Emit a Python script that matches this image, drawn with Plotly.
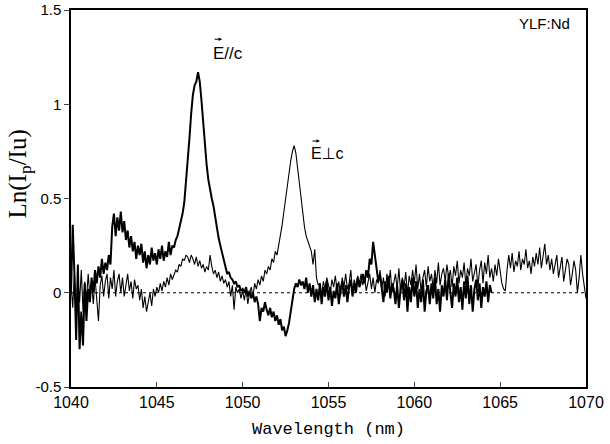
import numpy as np
import plotly.graph_objects as go

# wavelength grid step (nm) and starts
x_start = 1040.0
step = 0.1

# E perpendicular c (thin line), 1040.0 .. 1070.0
perp_vals = [
    0.05, -0.08, 0.1, -0.12, 0.08, -0.05, 0.12, -0.1, 0.06, -0.04,
    0.1, -0.02, 0.05, -0.06, 0.08, -0.03, -0.15, 0.04, 0.09, -0.02,
    0.06, 0.1, -0.03, 0.08, 0.02, 0.12, -0.02, 0.06, 0.1, 0.0,
    0.08, -0.02, 0.05, 0.1, 0.01, 0.06, -0.03, 0.07, 0.02, 0.04,
    -0.04, 0.02, -0.08, -0.02, -0.1, -0.04, 0.0, -0.07, 0.02, -0.02,
    0.03, 0.0, 0.05, 0.01, 0.06, 0.03, 0.08, 0.04, 0.1, 0.07,
    0.1, 0.12, 0.11, 0.15, 0.14, 0.18, 0.17, 0.2, 0.19, 0.16,
    0.2, 0.18, 0.15, 0.19, 0.14, 0.17, 0.13, 0.15, 0.11, 0.14,
    0.12, 0.2, 0.14, 0.1, 0.12, 0.08, 0.11, 0.06, 0.09, 0.05,
    0.07, 0.03, 0.06, -0.02, 0.04, -0.09, 0.03, 0.0, 0.02, -0.03,
    0.01, -0.04, 0.02, -0.06, 0.0, 0.03, -0.02, 0.05, 0.02, 0.07,
    0.04, 0.09, 0.06, 0.12, 0.1, 0.14, 0.12, 0.18, 0.16, 0.22,
    0.2, 0.25, 0.3, 0.36, 0.43, 0.5, 0.57, 0.64, 0.7, 0.75,
    0.78, 0.74, 0.66, 0.57, 0.48, 0.4, 0.35, 0.3, 0.27, 0.24,
    0.22, 0.15, 0.23, 0.08, 0.04, 0.05, -0.02, 0.06, 0.02, 0.08,
    0.04, 0.0, 0.07, 0.03, 0.09, 0.01, 0.06, -0.02, 0.08, 0.03,
    0.1, 0.02, 0.05, 0.12, 0.0, 0.07, 0.03, 0.09, 0.05, 0.1,
    0.04, 0.08, 0.01, 0.06, 0.1, 0.02, 0.08, 0.0, 0.07, 0.05,
    0.12, 0.02, 0.08, -0.02, 0.1, 0.03, 0.12, 0.0, 0.06, 0.1,
    0.02, 0.13, 0.0, 0.08, 0.03, 0.11, -0.01, 0.09, 0.04, 0.12,
    0.05, 0.15, 0.02, 0.1, 0.0, 0.08, 0.12, 0.03, 0.14, 0.06,
    0.1, 0.02, 0.12, 0.05, 0.16, 0.04, 0.1, 0.13, 0.06, 0.15,
    0.08, 0.12, 0.03, 0.14, 0.09, 0.17, 0.05, 0.12, 0.08, 0.16,
    0.04, 0.13, 0.09, 0.18, 0.06, 0.1, 0.15, 0.03, 0.12, 0.17,
    0.05, 0.16, 0.1, 0.2, 0.08, 0.13, 0.06, 0.15, 0.09, 0.18,
    0.12, 0.05, 0.02, 0.01, 0.12, 0.2, 0.13, 0.21, 0.11, 0.17,
    0.14, 0.22, 0.12, 0.18, 0.15, 0.23, 0.13, 0.17, 0.1, 0.19,
    0.14, 0.21, 0.15, 0.24, 0.13, 0.19, 0.26, 0.15, 0.2, 0.12,
    0.18, 0.1, 0.16, 0.2, 0.08, 0.14, 0.19, 0.06, 0.12, 0.18,
    0.15, 0.04, 0.1, 0.17, 0.12, 0.0, 0.08, 0.2, 0.1, 0.02,
    -0.03,
]

# E parallel c (thick line), 1040.0 .. 1064.5
par_vals = [
    0.0, 0.36, 0.1, -0.25, 0.15, -0.3, -0.1, -0.28, 0.05, -0.15,
    0.02, -0.05, 0.08, 0.0, 0.12, 0.05, 0.14, 0.08, 0.18, 0.1,
    0.16, 0.12, 0.2, 0.15, 0.35, 0.42, 0.3, 0.4, 0.33, 0.43,
    0.32, 0.38, 0.28, 0.33, 0.24, 0.3, 0.22, 0.27, 0.18, 0.25,
    0.2, 0.26, 0.16, 0.22, 0.13, 0.2, 0.15, 0.24, 0.17, 0.21,
    0.15, 0.23, 0.18, 0.25, 0.17, 0.22, 0.19, 0.27, 0.2, 0.25,
    0.24, 0.28, 0.3, 0.34, 0.38, 0.42, 0.48, 0.58, 0.7, 0.82,
    0.95, 1.05, 1.1, 1.12, 1.17, 1.12, 1.02, 0.9, 0.78, 0.68,
    0.6, 0.54, 0.5, 0.46, 0.4, 0.34, 0.29, 0.25, 0.21, 0.18,
    0.13, 0.1, 0.11, 0.08, 0.07, 0.05, 0.06, 0.03, 0.04, 0.01,
    0.02, 0.0, 0.03, -0.02, 0.01, -0.03, 0.0, -0.05, -0.02, -0.06,
    -0.15, -0.08, -0.1, -0.05, -0.09, -0.12, -0.08, -0.13, -0.1, -0.15,
    -0.12, -0.17, -0.14, -0.2, -0.18, -0.23, -0.2, -0.16, -0.1, -0.03,
    0.02, 0.05, 0.03, 0.07, 0.04, 0.06, 0.02, 0.08, 0.0, 0.05,
    -0.02, 0.04, -0.05, 0.02, -0.04, 0.05, -0.06, 0.03, -0.02, 0.06,
    -0.04, 0.03, -0.07, 0.01, -0.03, 0.05, -0.06, 0.02, 0.06, -0.02,
    0.04, -0.05, 0.03, 0.07, -0.02, 0.05, 0.0, 0.08, 0.03, 0.06,
    0.1, 0.05, 0.12, 0.08, 0.18, 0.15, 0.27, 0.2, 0.13, 0.06,
    0.1, 0.03, -0.05, 0.06, 0.0, 0.09, -0.03, 0.05, 0.02, -0.06,
    0.04, -0.08, 0.02, 0.07, -0.04, 0.05, -0.1, 0.03, -0.05, 0.08,
    -0.02, 0.06, -0.08, 0.02, -0.05, 0.07, -0.1, 0.01, 0.04, -0.06,
    0.05, -0.03, 0.08, -0.06, 0.02, -0.1, 0.04, -0.02, 0.07, -0.04,
    0.1, 0.0, -0.08, 0.05, -0.02, 0.08, -0.05, 0.03, -0.09, 0.06,
    -0.03, 0.09, -0.06, 0.04, -0.1, 0.02, 0.07, -0.04, 0.05, -0.08,
    0.03, -0.02, 0.06, -0.05, 0.04, 0.0,
]

x_ticks = [1040, 1045, 1050, 1055, 1060, 1065, 1070]
y_ticks = [-0.5, 0, 0.5, 1, 1.5]
y_tick_text = ["-0.5", "0", "0.5", "1", "1.5"]

x_perp = np.round(x_start + step * np.arange(len(perp_vals)), 2)
x_par = np.round(x_start + step * np.arange(len(par_vals)), 2)

SANS = "Liberation Sans, Arial, sans-serif"

fig = go.Figure()
fig.add_trace(go.Scatter(x=[1040, 1070], y=[0, 0], mode="lines",
                         line=dict(color="black", width=1, dash="dot"),
                         hoverinfo="skip", showlegend=False))
fig.add_trace(go.Scatter(x=x_perp, y=perp_vals, mode="lines",
                         line=dict(color="black", width=1.1), showlegend=False))
fig.add_trace(go.Scatter(x=x_par, y=par_vals, mode="lines",
                         line=dict(color="black", width=2), showlegend=False))

# labels
fig.add_annotation(x=1049.13, y=1.27, text="E//c", showarrow=False,
                   font=dict(family=SANS, size=17, color="black"))
fig.add_annotation(x=1054.95, y=0.74,
                   text="E<span style=\"font-family:'DejaVu Sans'\">\u22a5</span>c",
                   showarrow=False, font=dict(family=SANS, size=16, color="black"))
# vector arrows over the E's
fig.add_annotation(x=1048.80, y=1.345, ax=-9, ay=0, text="", showarrow=True,
                   arrowhead=2, arrowsize=0.7, arrowwidth=1, arrowcolor="black")
fig.add_annotation(x=1054.50, y=0.805, ax=-9, ay=0, text="", showarrow=True,
                   arrowhead=2, arrowsize=0.7, arrowwidth=1, arrowcolor="black")
fig.add_annotation(x=1067.56, y=1.43, text="YLF:Nd", showarrow=False,
                   font=dict(family=SANS, size=15, color="black"))
# y title
fig.add_annotation(xref="paper", yref="paper", x=-0.1, y=0.565,
                   xanchor="center", yanchor="middle", textangle=-90,
                   text="Ln(I<sub>p</sub>/Iu)", showarrow=False,
                   font=dict(family="Liberation Serif, Times New Roman", size=25, color="black"))

fig.update_layout(
    width=610, height=444,
    margin=dict(l=71, r=24, t=10, b=57),
    paper_bgcolor="white", plot_bgcolor="white",
    xaxis=dict(range=[1040, 1070], tickvals=x_ticks, ticks="inside", ticklen=5,
               showline=True, mirror=True, linecolor="black", linewidth=1.5,
               showgrid=False, zeroline=False, automargin=False,
               tickfont=dict(family=SANS, size=16, color="black"),
               title=dict(text="Wavelength (nm)", standoff=12,
                          font=dict(family="Liberation Mono, Courier New", size=17, color="black"))),
    yaxis=dict(range=[-0.5, 1.5], tickvals=y_ticks, ticktext=y_tick_text,
               ticks="outside", ticklen=5, automargin=False,
               showline=True, mirror=True, linecolor="black", linewidth=1.5,
               showgrid=False, zeroline=False,
               tickfont=dict(family=SANS, size=15, color="black")),
)

fig.write_html("out.html")
